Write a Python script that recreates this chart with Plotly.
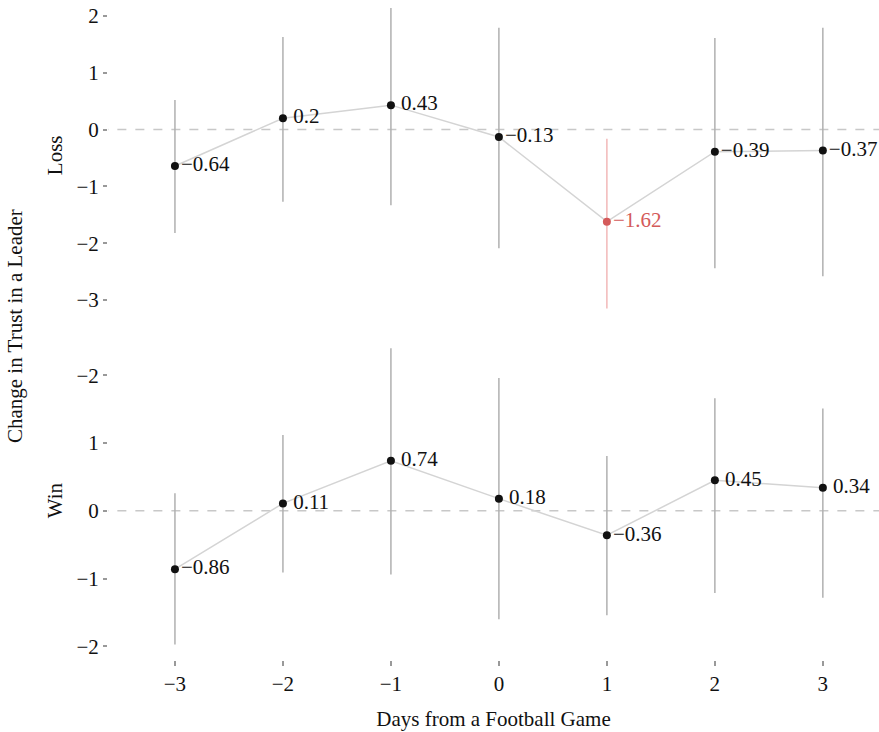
import plotly.graph_objects as go

days = [-3, -2, -1, 0, 1, 2, 3]
loss_est = [-0.64, 0.20, 0.43, -0.13, -1.62, -0.39, -0.37]
loss_hi = [0.52, 1.63, 2.14, 1.79, -0.16, 1.61, 1.79]
loss_lo = [-1.82, -1.27, -1.33, -2.09, -3.15, -2.44, -2.58]
win_est = [-0.86, 0.11, 0.74, 0.18, -0.36, 0.45, 0.34]
win_hi = [0.26, 1.12, 2.40, 1.96, 0.81, 1.66, 1.51]
win_lo = [-1.97, -0.91, -0.94, -1.60, -1.54, -1.21, -1.28]
loss_highlight = [False, False, False, False, True, False, False]
win_highlight = [False] * 7

loss_ticks = [2, 1, 0, -1, -2, -3]
loss_ticktext = ["2", "1", "0", "\u22121", "\u22122", "\u22123"]
win_ticks = [2, 1, 0, -1, -2]
win_ticktext = ["\u22122", "1", "0", "\u22121", "\u22122"]

FONT = "Liberation Serif"
FS = 21
BLACK = "#111111"
RED = "#d45a5a"
RED_BAR = "#f2b8b8"
BAR = "#b0b0b0"
LINE = "#d4d4d4"


def fmt(v):
    s = f"{abs(v):.2f}"
    if s.endswith("0"):
        s = s[:-1]
    return ("\u2212" if v < 0 else "\u2009") + s


fig = go.Figure()
zero_traces, other_traces = [], []


def add_panel(est, hi, lo, hl, xa, ya):
    zero_traces.append(go.Scatter(x=[-3.7, 3.6], y=[0, 0], mode="lines", xaxis=xa, yaxis=ya,
                                  line=dict(color="#c8c8c8", width=1.5, dash="dash"),
                                  hoverinfo="skip", showlegend=False))
    other_traces.append(go.Scatter(x=days, y=est, mode="lines", xaxis=xa, yaxis=ya,
                                   line=dict(color=LINE, width=1.5), hoverinfo="skip",
                                   showlegend=False))
    for d, h, l, f in zip(days, hi, lo, hl):
        other_traces.append(go.Scatter(x=[d, d], y=[l, h], mode="lines", xaxis=xa, yaxis=ya,
                                       line=dict(color=RED_BAR if f else BAR, width=1.5),
                                       hoverinfo="skip", showlegend=False))
    for d, e, f in zip(days, est, hl):
        other_traces.append(go.Scatter(x=[d], y=[e], mode="markers+text", xaxis=xa, yaxis=ya,
                                       marker=dict(color=RED if f else BLACK, size=8),
                                       text=[fmt(e)], textposition="middle right",
                                       textfont=dict(family=FONT, size=FS,
                                                     color=RED if f else BLACK),
                                       cliponaxis=False, showlegend=False))


add_panel(loss_est, loss_hi, loss_lo, loss_highlight, "x2", "y2")
add_panel(win_est, win_hi, win_lo, win_highlight, "x", "y")
for t in zero_traces + other_traces:
    fig.add_trace(t)

xr = [-3.62, 3.52]
axis_common = dict(showgrid=False, zeroline=False, showline=False, automargin=False,
                   tickfont=dict(family=FONT, size=FS, color=BLACK))
fig.update_layout(
    width=879, height=732,
    margin=dict(l=108, r=0, t=0, b=72, autoexpand=False),
    paper_bgcolor="white", plot_bgcolor="white",
    font=dict(family=FONT, size=FS, color=BLACK),
    xaxis=dict(domain=[0, 1], range=xr, anchor="y", tickvals=days,
               ticktext=[("\u2212" + str(-d)) if d < 0 else str(d) for d in days],
               ticks="outside", ticklen=5, tickwidth=2, tickcolor="#999999",
               title=dict(text="Days from a Football Game", standoff=16,
                          font=dict(family=FONT, size=FS)),
               **axis_common),
    xaxis2=dict(domain=[0, 1], range=xr, anchor="y2", showticklabels=False,
                ticks="", **axis_common),
    yaxis=dict(domain=[0.0, 0.4848], range=[-2.20, 2.52], anchor="x",
               tickvals=win_ticks, ticktext=win_ticktext,
               ticks="outside", ticklen=4, tickwidth=2, tickcolor="#999999",
               **axis_common),
    yaxis2=dict(domain=[0.5152, 1.0], range=[-3.35, 2.28], anchor="x2",
                tickvals=loss_ticks, ticktext=loss_ticktext,
                ticks="outside", ticklen=4, tickwidth=2, tickcolor="#999999",
                **axis_common),
    annotations=[
        dict(text="Change in Trust in a Leader", x=-0.1206, y=0.506,
             xref="paper", yref="paper", textangle=-90, showarrow=False,
             xanchor="center", yanchor="middle",
             font=dict(family=FONT, size=FS, color=BLACK)),
        dict(text="Loss", x=-0.0687, y=0.765, xref="paper", yref="paper",
             textangle=-90, showarrow=False, xanchor="center", yanchor="middle",
             font=dict(family=FONT, size=FS, color=BLACK)),
        dict(text="Win", x=-0.0687, y=0.242, xref="paper", yref="paper",
             textangle=-90, showarrow=False, xanchor="center", yanchor="middle",
             font=dict(family=FONT, size=FS, color=BLACK)),
    ],
)

fig.write_html("out.html", config={"displayModeBar": False},
               post_script="document.body.style.margin='0';document.body.style.overflow='hidden';")
